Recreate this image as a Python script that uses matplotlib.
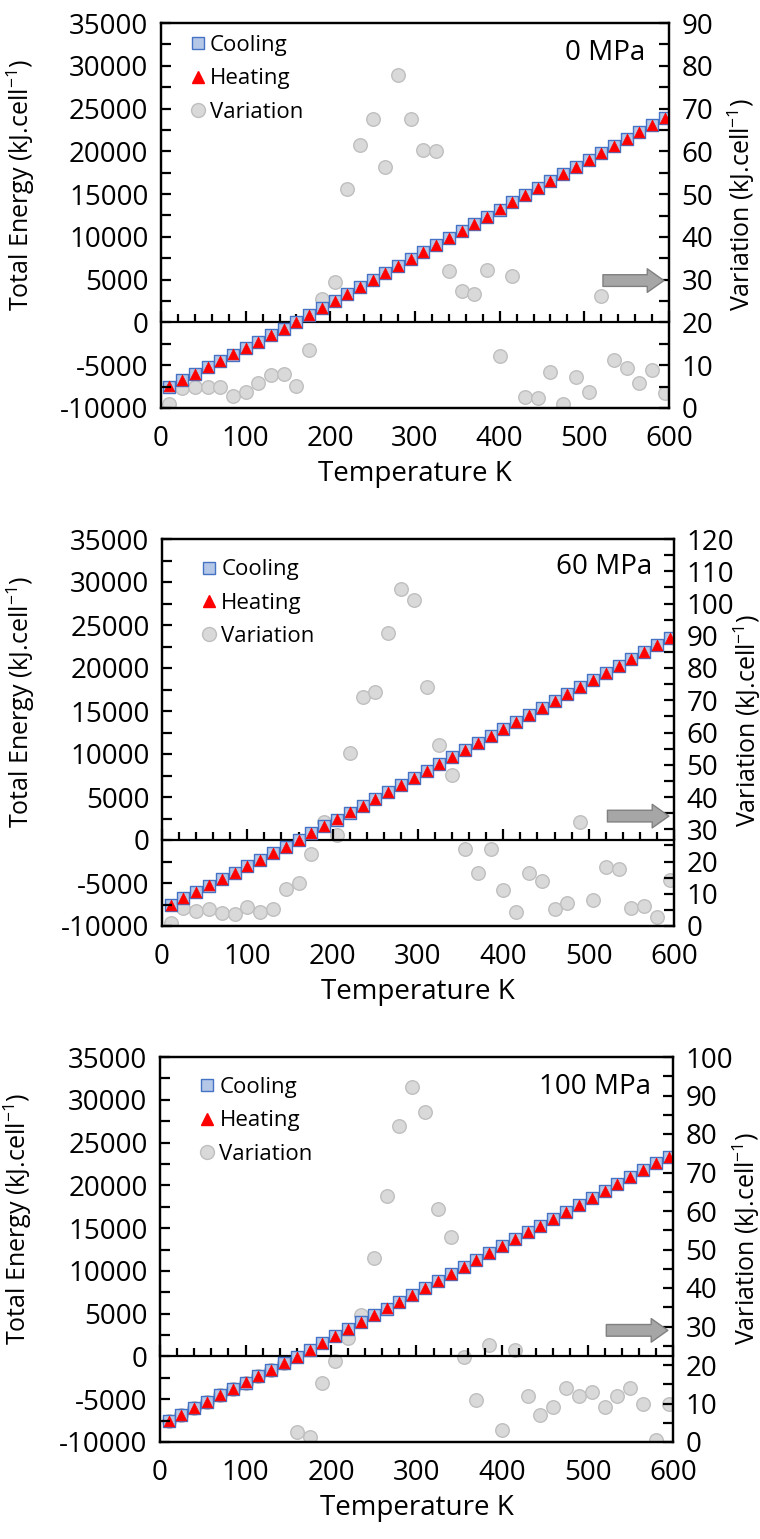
import matplotlib
matplotlib.use("Agg")
import matplotlib.pyplot as plt
from matplotlib.ticker import MultipleLocator
from matplotlib.lines import Line2D

plt.rcParams["font.family"] = ["Open Sans", "DejaVu Sans"]
plt.rcParams["mathtext.fontset"] = "custom"
plt.rcParams["mathtext.rm"] = "Open Sans"
plt.rcParams["mathtext.it"] = "Open Sans"
plt.rcParams["axes.unicode_minus"] = False

# temperature grid (K), same for all three pressures
temps = [10, 25, 40, 55, 70, 85, 100, 115, 130, 145, 160, 175, 190, 205, 220,
         235, 250, 265, 280, 295, 310, 325, 340, 355, 370, 385, 400, 415, 430,
         445, 460, 475, 490, 505, 520, 535, 550, 565, 580, 595]

pressures = ["0 MPa", "60 MPa", "100 MPa"]

# total energy (kJ/cell), cooling and heating runs
cool_0 = [-7500, -6750, -6000, -5250, -4500, -3750, -3000, -2250, -1500, -750,
          0, 825, 1650, 2480, 3300, 4130, 4950, 5780, 6600, 7430, 8250, 9080,
          9900, 10730, 11550, 12380, 13200, 14030, 14850, 15680, 16500, 17330,
          18150, 18980, 19800, 20630, 21450, 22280, 23100, 23920]
heat_0 = [-7480, -6740, -5990, -5240, -4490, -3740, -2990, -2240, -1490, -740,
          10, 830, 1660, 2480, 3310, 4130, 4960, 5780, 6610, 7430, 8260, 9080,
          9910, 10730, 11560, 12380, 13210, 14030, 14860, 15680, 16510, 17330,
          18160, 18980, 19810, 20630, 21460, 22280, 23110, 23930]
cool_60 = [-7550, -6800, -6050, -5300, -4550, -3800, -3050, -2300, -1550, -800,
           -50, 760, 1570, 2380, 3190, 4000, 4810, 5620, 6430, 7240, 8050, 8860,
           9670, 10480, 11290, 12100, 12910, 13720, 14530, 15340, 16150, 16960,
           17770, 18580, 19390, 20200, 21010, 21820, 22630, 23440]
heat_60 = [-7540, -6790, -6040, -5290, -4540, -3790, -3040, -2290, -1540, -790,
           -40, 770, 1580, 2390, 3200, 4010, 4820, 5630, 6440, 7250, 8060, 8870,
           9680, 10490, 11300, 12110, 12920, 13730, 14540, 15350, 16160, 16970,
           17780, 18590, 19400, 20210, 21020, 21830, 22640, 23450]
cool_100 = [-7550, -6800, -6050, -5300, -4550, -3800, -3050, -2300, -1550, -800,
            -50, 760, 1570, 2370, 3180, 3990, 4800, 5600, 6410, 7220, 8030, 8830,
            9640, 10450, 11260, 12060, 12870, 13680, 14490, 15290, 16100, 16910,
            17720, 18520, 19330, 20140, 20950, 21750, 22560, 23340]
heat_100 = [-7540, -6790, -6040, -5290, -4540, -3790, -3040, -2290, -1540, -790,
            -40, 770, 1580, 2380, 3190, 4000, 4810, 5610, 6420, 7230, 8040, 8840,
            9650, 10460, 11270, 12070, 12880, 13690, 14500, 15300, 16110, 16920,
            17730, 18530, 19340, 20150, 20960, 21760, 22570, 23350]

# variation (kJ/cell), right axis
var_0 = [0.9, 4.6, 5.0, 5.0, 4.8, 2.9, 3.7, 5.8, 7.7, 7.9, 5.2, 13.6, 25.5,
         29.4, 51.2, 61.4, 67.5, 56.3, 77.8, 67.6, 60.3, 60.1, 32.1, 27.4, 26.6,
         32.3, 12.2, 30.9, 2.6, 2.4, 8.3, 0.9, 7.3, 3.8, 26.2, 11.2, 9.3, 5.9,
         8.8, 3.4]
var_60 = [1.0, 5.5, 4.8, 5.2, 4.1, 3.7, 5.8, 4.3, 5.4, 11.4, 13.2, 22.2, 32.3,
          28.2, 53.7, 71.1, 72.7, 90.9, 104.4, 101.1, 74.2, 56.1, 46.8, 23.9,
          16.5, 23.8, 11.2, 4.4, 16.3, 14.0, 5.2, 7.2, 32.3, 8.1, 18.4, 17.6,
          5.5, 6.2, 2.9, 14.3]
var_100 = [5.5, 7.1, 8.8, 10.4, 12.1, 13.8, 15.4, 17.1, 18.8, 20.4, 2.6, 1.2,
           15.2, 21.0, 27.0, 33.0, 47.8, 63.9, 82.2, 92.1, 85.7, 60.4, 53.2,
           22.0, 11.0, 25.3, 3.0, 24.0, 12.0, 7.0, 9.0, 14.0, 12.0, 13.0, 9.0,
           12.0, 14.0, 10.0, 0.5, 10.0]

var_max = [90, 120, 100]

# axes boxes in pixels: left, right, top, bottom
boxes = [(161, 669, 23, 408), (162, 674, 539, 926), (160, 673, 1057, 1442)]
label_pos = [(0.953, 0.922), (0.957, 0.928), (0.958, 0.922)]
legend_pos = [(0.033, 1.003), (0.053, 0.982), (0.053, 0.982)]
arrow_y = [0.331, 0.284, 0.29]

W, H = 760, 1539
fig = plt.figure(figsize=(W / 100, H / 100), dpi=100)

cools = [cool_0, cool_60, cool_100]
heats = [heat_0, heat_60, heat_100]
variations = [var_0, var_60, var_100]

fs = 20
for i in range(3):
    l, r, t, b = boxes[i]
    ax = fig.add_axes([l / W, 1 - b / H, (r - l) / W, (b - t) / H])
    ax2 = ax.twinx()
    ax.set_zorder(ax2.get_zorder() + 1)
    ax.patch.set_visible(False)

    ax2.scatter(temps, variations[i], s=95, marker="o", color="#d9d9d9",
                edgecolors="#bfbfbf", linewidths=1.0)
    ax.scatter(temps, cools[i], s=78, marker="s", color="#b4c7e7",
               edgecolors="#4472c4", linewidths=1.0)
    ax.scatter(temps, heats[i], s=60, marker="^", color="#ff0000",
               edgecolors="#ff0000", linewidths=0.5)

    ax.set_xlim(0, 600)
    ax.set_ylim(-10000, 35000)
    ax2.set_ylim(0, var_max[i])

    for sp in ax.spines.values():
        sp.set_linewidth(1.6)
    for sp in ax2.spines.values():
        sp.set_linewidth(1.6)

    ax.yaxis.set_major_locator(MultipleLocator(5000))
    ax.yaxis.set_minor_locator(MultipleLocator(2500))
    ax.tick_params(axis="y", which="both", direction="in", length=7, width=1.6,
                   labelsize=fs, pad=9)
    ax.set_xticks(range(0, 601, 100))
    ax.tick_params(axis="x", which="both", length=0, labelsize=fs, pad=12)

    ax2.yaxis.set_major_locator(MultipleLocator(10))
    ax2.yaxis.set_minor_locator(MultipleLocator(5))
    ax2.tick_params(axis="y", which="both", direction="in", length=7, width=1.6,
                    labelsize=fs, pad=9)

    # horizontal axis crossing at zero energy
    sec = ax.secondary_xaxis(10000 / 45000)
    sec.spines["bottom"].set_linewidth(1.6)
    sec.xaxis.set_major_locator(MultipleLocator(100))
    sec.xaxis.set_minor_locator(MultipleLocator(20))
    sec.tick_params(which="major", direction="in", length=8, width=1.6,
                    labelbottom=False)
    sec.tick_params(which="minor", direction="in", length=6, width=1.6)

    ax.set_xlabel("Temperature K", fontsize=fs, labelpad=5)
    ax.set_ylabel("Total Energy (kJ.cell$^{-1}$)", fontsize=18)
    ax2.set_ylabel("Variation (kJ.cell$^{-1}$)", fontsize=18)
    ax.yaxis.set_label_coords(-0.245, 0.58)
    ax2.yaxis.set_label_coords(1.112, 0.53)

    ax.text(label_pos[i][0], label_pos[i][1], pressures[i], transform=ax.transAxes,
            ha="right", va="center", fontsize=fs)

    ax.annotate("", xy=(0.99, arrow_y[i]), xytext=(0.87, arrow_y[i]),
                xycoords="axes fraction",
                arrowprops=dict(arrowstyle="simple,head_width=0.85,head_length=0.6,tail_width=0.42",
                                fc="#a6a6a6", ec="#808080", lw=1.0,
                                mutation_scale=20, shrinkA=0, shrinkB=0))

    handles = [
        Line2D([], [], ls="none", marker="s", ms=9, mfc="#b4c7e7", mec="#4472c4"),
        Line2D([], [], ls="none", marker="^", ms=8, mfc="#ff0000", mec="#ff0000"),
        Line2D([], [], ls="none", marker="o", ms=10, mfc="#d9d9d9", mec="#bfbfbf"),
    ]
    ax.legend(handles, ["Cooling", "Heating", "Variation"], loc="upper left",
              bbox_to_anchor=legend_pos[i], frameon=False, fontsize=16,
              handlelength=0.6, handletextpad=0.25, labelspacing=0.55,
              borderaxespad=0.2)

fig.savefig("out.png", dpi=100)
